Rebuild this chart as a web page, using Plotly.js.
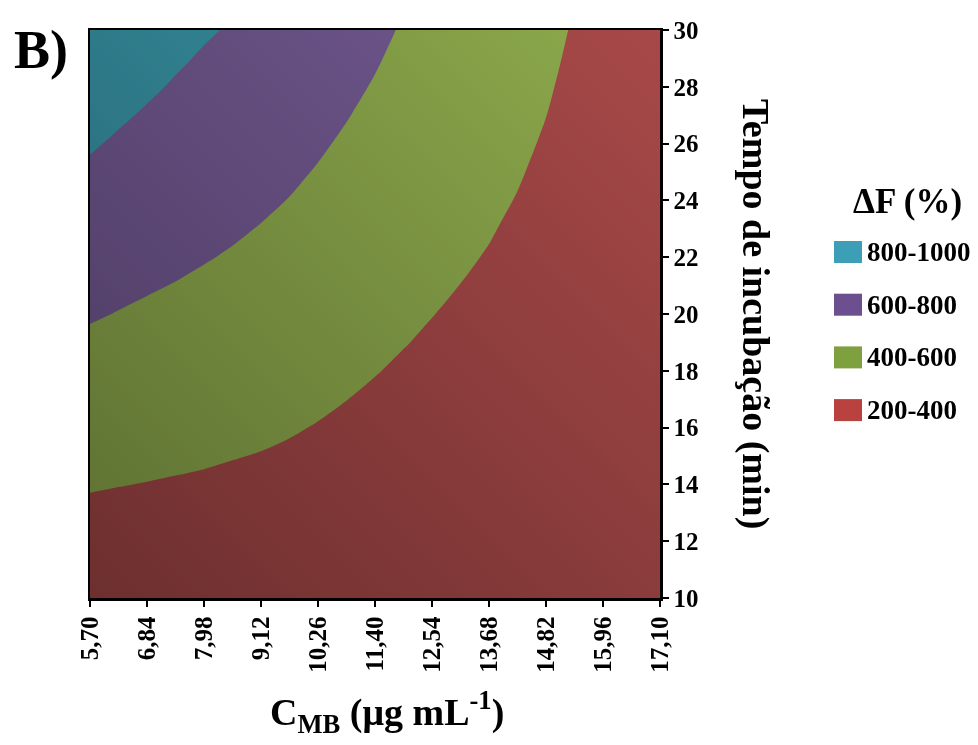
<!DOCTYPE html>
<html>
<head>
<meta charset="utf-8">
<script src="https://cdn.plot.ly/plotly-3.0.1.min.js"></script>
<style>
  html, body { margin: 0; padding: 0; background: #ffffff; }
  #wrap { position: relative; width: 978px; height: 745px; }
  #chart { width: 978px; height: 745px; }
  #shade {
    position: absolute; pointer-events: none;
    background: linear-gradient(to top right, rgb(166,166,166), rgb(255,255,255));
    mix-blend-mode: multiply;
  }
</style>
</head>
<body>
<div id="wrap">
  <div id="chart"></div>
  <div id="shade"></div>
</div>
<script>
// Concentration of MB (µg/mL): surface grid columns
const cMB = [5.70, 6.27, 6.84, 7.41, 7.98, 8.55, 9.12, 9.69, 10.26, 10.83, 11.40,
             11.97, 12.54, 13.11, 13.68, 14.25, 14.82, 15.39, 15.96, 16.53, 17.10];
// Concentration axis ticks
const cMBTicks = [5.70, 6.84, 7.98, 9.12, 10.26, 11.40, 12.54, 13.68, 14.82, 15.96, 17.10];
const cMBLabels = ['5,70', '6,84', '7,98', '9,12', '10,26', '11,40', '12,54', '13,68', '14,82', '15,96', '17,10'];

// Incubation time (min): surface grid rows
const tempo = [10, 11, 12, 13, 14, 15, 16, 17, 18, 19, 20, 21, 22, 23, 24, 25, 26, 27, 28, 29, 30];
// Time axis ticks
const tempoTicks = [10, 12, 14, 16, 18, 20, 22, 24, 26, 28, 30];
const tempoLabels = ['10', '12', '14', '16', '18', '20', '22', '24', '26', '28', '30'];

// ΔF (%) response surface: one row per incubation time, one column per concentration
const deltaF = [
  [276, 275, 274, 274, 273, 272, 271, 268, 263, 258, 253, 252, 246, 242, 236, 225, 228, 224, 218, 213, 208],
  [309, 307, 305, 304, 301, 298, 296, 291, 285, 279, 272, 269, 262, 256, 249, 237, 237, 229, 221, 214, 209],
  [343, 339, 336, 333, 329, 325, 321, 315, 307, 299, 291, 285, 277, 270, 262, 249, 246, 234, 224, 216, 210],
  [376, 371, 366, 362, 357, 351, 346, 338, 329, 319, 310, 302, 293, 285, 275, 261, 255, 239, 227, 217, 211],
  [410, 403, 397, 391, 385, 378, 371, 362, 351, 340, 329, 319, 309, 299, 288, 274, 264, 244, 230, 219, 212],
  [444, 435, 428, 420, 413, 404, 396, 385, 373, 360, 347, 336, 324, 313, 302, 286, 273, 249, 233, 220, 214],
  [477, 467, 458, 450, 440, 430, 420, 409, 395, 381, 366, 353, 340, 328, 315, 298, 282, 254, 236, 222, 216],
  [511, 500, 489, 479, 468, 457, 445, 432, 417, 401, 385, 370, 355, 342, 328, 310, 291, 259, 239, 223, 218],
  [544, 532, 520, 508, 496, 484, 470, 456, 439, 421, 404, 387, 371, 356, 341, 322, 300, 264, 242, 225, 220],
  [578, 564, 550, 537, 524, 510, 495, 479, 461, 442, 423, 404, 387, 371, 354, 335, 311, 275, 252, 234, 222],
  [612, 596, 581, 566, 552, 536, 520, 503, 483, 462, 441, 421, 402, 385, 368, 347, 322, 285, 262, 243, 224],
  [645, 627, 611, 596, 580, 563, 545, 526, 505, 483, 460, 438, 418, 399, 381, 359, 333, 296, 272, 252, 233],
  [679, 659, 641, 624, 607, 590, 570, 550, 527, 503, 479, 454, 433, 413, 394, 371, 345, 306, 282, 261, 241],
  [712, 690, 670, 651, 633, 615, 595, 573, 549, 523, 498, 471, 449, 428, 407, 383, 356, 317, 291, 271, 250],
  [746, 722, 700, 679, 659, 640, 619, 597, 571, 544, 517, 488, 465, 442, 420, 396, 367, 327, 301, 280, 258],
  [780, 753, 729, 706, 685, 664, 642, 619, 593, 564, 535, 505, 480, 456, 434, 408, 379, 338, 311, 289, 267],
  [813, 784, 759, 734, 711, 689, 665, 640, 614, 585, 554, 522, 496, 471, 447, 420, 390, 348, 321, 298, 276],
  [847, 816, 788, 761, 736, 714, 688, 662, 635, 605, 573, 539, 511, 485, 460, 432, 401, 359, 331, 307, 284],
  [880, 847, 818, 789, 762, 739, 711, 684, 655, 624, 592, 556, 527, 499, 473, 444, 413, 369, 340, 317, 293],
  [914, 879, 847, 816, 788, 764, 735, 706, 675, 643, 610, 573, 543, 514, 486, 457, 424, 380, 350, 326, 301],
  [948, 910, 877, 844, 814, 789, 758, 728, 695, 662, 627, 590, 558, 528, 500, 469, 435, 390, 360, 335, 310]
];

// Response bands (low to high)
const bandLabels = ['200-400', '400-600', '600-800', '800-1000'];
const bandColors = ['#a84848', '#8eab4c', '#735992', '#3894a7'];
const legendColors = ['#b9413f', '#7fa03f', '#6b4f8e', '#3c9fb6'];

const FONT = 'Liberation Serif, Times New Roman, serif';

const colorscale = [];
bandColors.forEach((c, i) => {
  colorscale.push([i / bandColors.length, c]);
  colorscale.push([(i + 1) / bandColors.length, c]);
});

const trace = {
  type: 'contour',
  x: cMB,
  y: tempo,
  z: deltaF,
  zmin: 200,
  zmax: 1000,
  autocontour: false,
  contours: { start: 200, end: 1000, size: 200, coloring: 'fill', showlines: false },
  line: { width: 0, smoothing: 1.0 },
  colorscale: colorscale,
  showscale: false,
  hoverinfo: 'x+y+z'
};

// legend drawn at the right: squares and labels, top item is the highest band
const shapes = [];
const annotations = [];
const legendTop = 252, legendStep = 52.7;
const toPy = py => (598 - py) / 568;
const toPx = px => (px - 90) / 570;
for (let k = 0; k < bandLabels.length; k++) {
  const i = bandLabels.length - 1 - k;
  const cy = legendTop + k * legendStep;
  shapes.push({
    type: 'rect', xref: 'paper', yref: 'paper',
    x0: toPx(834), x1: toPx(862), y0: toPy(cy + 11), y1: toPy(cy - 11),
    fillcolor: legendColors[i], line: { width: 0 }
  });
  annotations.push({
    xref: 'paper', yref: 'paper', x: toPx(865), y: toPy(cy),
    xanchor: 'left', yanchor: 'middle', showarrow: false,
    text: bandLabels[i],
    font: { family: FONT, size: 27, color: '#000', weight: 'bold' }
  });
}
annotations.push({
  xref: 'paper', yref: 'paper', x: toPx(907), y: toPy(201),
  xanchor: 'center', yanchor: 'middle', showarrow: false,
  text: 'ΔF (%)',
  font: { family: FONT, size: 35, color: '#000', weight: 'bold' }
});
// panel letter
annotations.push({
  xref: 'paper', yref: 'paper', x: toPx(12), y: toPy(50),
  xanchor: 'left', yanchor: 'middle', showarrow: false,
  text: 'B)',
  font: { family: FONT, size: 54, color: '#000', weight: 'bold' }
});
// axis titles
annotations.push({
  xref: 'paper', yref: 'paper', x: toPx(756), y: toPy(314),
  xanchor: 'center', yanchor: 'middle', showarrow: false, textangle: 90,
  text: 'Tempo de incubação (min)',
  font: { family: FONT, size: 38, color: '#000', weight: 'bold' }
});
annotations.push({
  xref: 'paper', yref: 'paper', x: toPx(387), y: toPy(712),
  xanchor: 'center', yanchor: 'middle', showarrow: false,
  text: 'C<sub>MB</sub> (μg mL<sup>-1</sup>)',
  font: { family: FONT, size: 38, color: '#000', weight: 'bold' }
});

const tickFont = { family: FONT, size: 25, color: '#000', weight: 'bold' };

const layout = {
  width: 978, height: 745,
  margin: { l: 90, r: 318, t: 30, b: 147 },
  paper_bgcolor: '#ffffff',
  plot_bgcolor: '#ffffff',
  showlegend: false,
  xaxis: {
    range: [cMBTicks[0], cMBTicks[cMBTicks.length - 1]],
    tickmode: 'array', tickvals: cMBTicks, ticktext: cMBLabels,
    tickangle: -90, ticks: 'outside', ticklen: 6, tickwidth: 2, tickcolor: '#000',
    showline: true, linewidth: 2.5, linecolor: '#000', mirror: true,
    showgrid: false, zeroline: false, tickfont: tickFont
  },
  yaxis: {
    range: [tempoTicks[0], tempoTicks[tempoTicks.length - 1]], side: 'right',
    tickmode: 'array', tickvals: tempoTicks, ticktext: tempoLabels,
    ticks: 'outside', ticklen: 6, tickwidth: 2, tickcolor: '#000',
    showline: true, linewidth: 2.5, linecolor: '#000', mirror: true,
    showgrid: false, zeroline: false, tickfont: tickFont
  },
  shapes: shapes,
  annotations: annotations
};

Plotly.newPlot('chart', [trace], layout, { displayModeBar: false, staticPlot: true }).then(gd => {
  // soft directional lighting across the plotting area
  const s = gd._fullLayout._size;
  const shade = document.getElementById('shade');
  shade.style.left = s.l + 'px';
  shade.style.top = s.t + 'px';
  shade.style.width = s.w + 'px';
  shade.style.height = s.h + 'px';
});
</script>
</body>
</html>
